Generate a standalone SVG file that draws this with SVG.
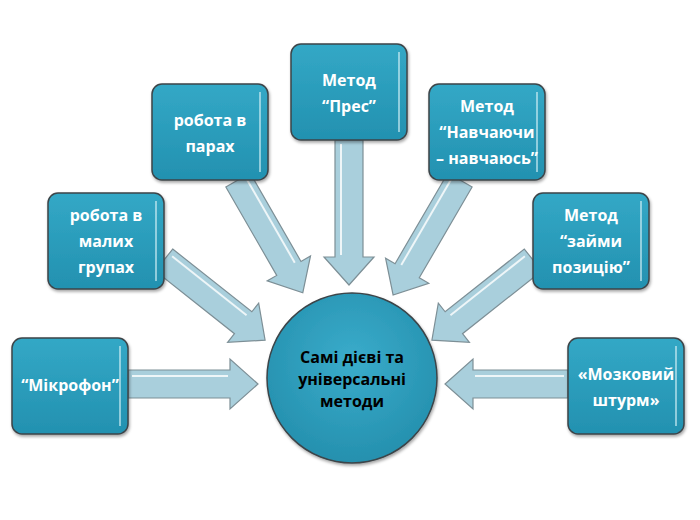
<svg xmlns="http://www.w3.org/2000/svg" width="700" height="520" viewBox="0 0 700 520">
<defs>
<linearGradient id="bg" x1="0" y1="0" x2="0" y2="1"><stop offset="0" stop-color="#33a8c6"/><stop offset="1" stop-color="#2391b0"/></linearGradient>
<radialGradient id="cg" cx="0.5" cy="0.4" r="0.6"><stop offset="0" stop-color="#3aaccb"/><stop offset="1" stop-color="#2590ae"/></radialGradient>
<filter id="sh" x="-10%" y="-10%" width="130%" height="130%"><feDropShadow dx="1" dy="2" stdDeviation="1.5" flood-color="#000" flood-opacity="0.35"/></filter>
</defs>
<style>
.box{fill:url(#bg);stroke:#3c4448;stroke-width:1.5;filter:url(#sh)}
.hl{fill:none;stroke:#d8f2f8;stroke-width:1.5;opacity:0.8}
.arr{fill:#a9cfdc;stroke:#7d8f96;stroke-width:1.2}
.ahl{fill:none;stroke:#ffffff;stroke-width:2;opacity:0.8}
.t{font-family:"Open Sans","DejaVu Sans",sans-serif;font-weight:bold;font-size:16px;fill:#fff;text-anchor:middle}
.c{font-family:"Open Sans","DejaVu Sans",sans-serif;font-weight:bold;font-size:16px;fill:#000;text-anchor:middle}
</style>
<g id="connectors">
<g transform="translate(128,384)"><path class="arr" d="M0,-14H102V-25L130,0L102,25V14H0Z"/><path class="ahl" d="M4,-8H100"/></g>
<g transform="translate(568,384) rotate(180)"><path class="arr" d="M0,-14H95V-25L123,0L95,25V14H0Z"/><path class="ahl" d="M4,8H93"/></g>
<g transform="translate(349,140) rotate(90)"><path class="arr" d="M0,-14H117V-25L145,0L117,25V14H0Z"/><path class="ahl" d="M4,8H115"/></g>
<g transform="translate(238,180) rotate(60.1)"><path class="arr" d="M0,-14H102V-25L130,0L102,25V14H0Z"/><path class="ahl" d="M4,-8H100"/></g>
<g transform="translate(164,260) rotate(38.4)"><path class="arr" d="M0,-14H101V-25L129,0L101,25V14H0Z"/><path class="ahl" d="M4,-8H99"/></g>
<g transform="translate(460,180) rotate(120.2)"><path class="arr" d="M0,-14H105V-25L133,0L105,25V14H0Z"/><path class="ahl" d="M4,8H103"/></g>
<g transform="translate(533,260) rotate(141.6)"><path class="arr" d="M0,-14H101V-25L129,0L101,25V14H0Z"/><path class="ahl" d="M4,8H99"/></g>
</g>
<g id="center"><circle cx="352" cy="378" r="85" fill="url(#cg)" stroke="#3c4448" stroke-width="1.5" filter="url(#sh)"/>
<text class="c" x="352" y="363">Самі дієві та</text><text class="c" x="352" y="385">універсальні</text><text class="c" x="352" y="407">методи</text></g>
<g id="n1"><rect class="box" x="12" y="338" width="116" height="96" rx="10"/><path class="hl" d="M120,346V426"/><text class="t" x="70" y="391">“Мікрофон”</text></g>
<g id="n2"><rect class="box" x="48" y="193" width="116" height="96" rx="10"/><path class="hl" d="M156,201V281"/><text class="t" x="106" y="221">робота в</text><text class="t" x="106" y="247">малих</text><text class="t" x="106" y="273">групах</text></g>
<g id="n3"><rect class="box" x="152" y="84" width="116" height="96" rx="10"/><path class="hl" d="M260,92V172"/><text class="t" x="210" y="126">робота в</text><text class="t" x="210" y="152">парах</text></g>
<g id="n4"><rect class="box" x="291" y="44" width="116" height="96" rx="10"/><path class="hl" d="M399,52V132"/><text class="t" x="349" y="86">Метод</text><text class="t" x="349" y="112">“Прес”</text></g>
<g id="n5"><rect class="box" x="429" y="84" width="116" height="96" rx="10"/><path class="hl" d="M537,92V172"/><text class="t" x="487" y="112">Метод</text><text class="t" x="487" y="138">“Навчаючи</text><text class="t" x="487" y="164">– навчаюсь”</text></g>
<g id="n6"><rect class="box" x="533" y="193" width="116" height="96" rx="10"/><path class="hl" d="M641,201V281"/><text class="t" x="591" y="221">Метод</text><text class="t" x="591" y="247">“займи</text><text class="t" x="591" y="273">позицію”</text></g>
<g id="n7"><rect class="box" x="568" y="338" width="116" height="96" rx="10"/><path class="hl" d="M676,346V426"/><text class="t" x="626" y="380">«Мозковий</text><text class="t" x="626" y="406">штурм»</text></g>
</svg>
